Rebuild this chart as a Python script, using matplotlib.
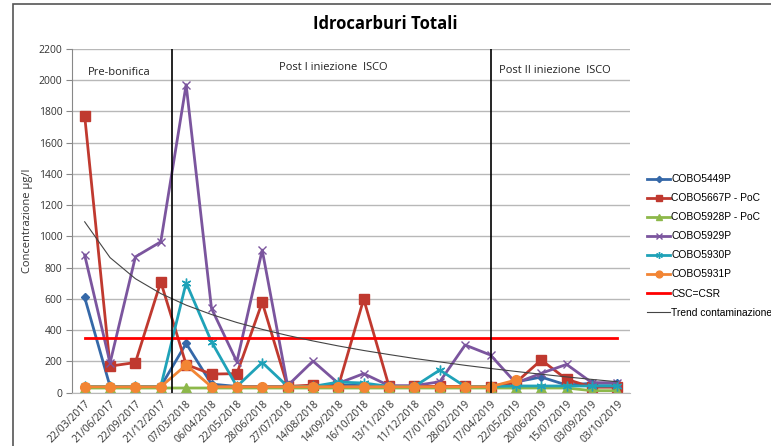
import numpy as np
import matplotlib
matplotlib.use("Agg")
import matplotlib.pyplot as plt
from matplotlib.patches import Rectangle

# dati
dates = ["22/03/2017", "21/06/2017", "22/09/2017", "21/12/2017", "07/03/2018",
         "06/04/2018", "22/05/2018", "28/06/2018", "27/07/2018", "14/08/2018",
         "14/09/2018", "16/10/2018", "13/11/2018", "11/12/2018", "17/01/2019",
         "28/02/2019", "17/04/2019", "22/05/2019", "20/06/2019", "15/07/2019",
         "03/09/2019", "03/10/2019"]

cobo5449 = [609, 40, 40, 40, 315, 55, 40, 40, 40, 40, 50, 45, 40, 40, 40, 40, 40, 69, 100, 49, 60, 60]
cobo5667 = [1770, 170, 193, 709, 180, 119, 122, 578, 40, 49, 40, 599, 40, 40, 40, 40, 38, 65, 209, 86, 35, 35]
cobo5928 = [30, 30, 30, 30, 30, 30, 30, 30, 30, 30, 30, 30, 30, 30, 30, 30, 30, 30, 30, 30, 13, 13]
cobo5929 = [880, 190, 869, 965, 1970, 539, 198, 912, 45, 202, 60, 122, 45, 45, 70, 305, 241, 62, 124, 181, 64, 64]
cobo5930 = [40, 40, 40, 40, 703, 326, 40, 193, 40, 40, 68, 62, 40, 40, 145, 40, 40, 43, 43, 43, 43, 43]
cobo5931 = [38, 38, 38, 38, 177, 38, 38, 38, 38, 38, 38, 38, 38, 38, 38, 38, 38, 81,
            np.nan, np.nan, np.nan, np.nan]
csc = 350
trend = [1093, 864, 729, 634, 560, 500, 449, 405, 366, 331, 299, 270, 244, 219,
         197, 175, 155, 136, 118, 101, 85, 70]

x = np.arange(len(dates))

fig = plt.figure(figsize=(7.71, 4.46), dpi=100)
ax = fig.add_axes([72 / 771, 1 - 392.7 / 446, 558 / 771, 344 / 446])

# cornice esterna
fig.patches.append(Rectangle((13 / 771, -0.1), 1.2, (446 - 4) / 446 + 0.1,
                             transform=fig.transFigure, fill=False,
                             edgecolor="#555555", linewidth=1.2))

lw = 2
ax.plot(x, cobo5449, color="#3568A8", marker="D", ms=4.5, lw=lw, label="COBO5449P")
ax.plot(x, cobo5667, color="#C0392F", marker="s", ms=6.5, lw=lw, label="COBO5667P - PoC")
ax.plot(x, cobo5928, color="#8DB84A", marker="^", ms=6.5, lw=lw, label="COBO5928P - PoC")
ax.plot(x, cobo5929, color="#7B559E", marker="x", ms=6, mew=1, lw=lw, label="COBO5929P")
ax.plot(x, cobo5930, color="#1FA2B8", marker=(6, 2, 0), ms=7, mew=1, lw=lw, label="COBO5930P")
ax.plot(x, cobo5931, color="#F28534", marker="o", ms=7, lw=lw, label="COBO5931P")
ax.plot(x, [csc] * len(x), color="#FF0000", lw=2, label="CSC=CSR")
ax.plot(x, trend, color="#444444", lw=0.8, label="Trend contaminazione")

# separatori fasi
ax.axvline(3.45, color="black", lw=1.2)
ax.axvline(16, color="black", lw=1.2)
ax.text(1.35, 2050, "Pre-bonifica", ha="center", va="center", fontsize=8,
        family="Open Sans", color="#222222")
ax.text(9.8, 2080, "Post I iniezione  ISCO", ha="center", va="center", fontsize=8,
        family="Open Sans", color="#222222")
ax.text(18.55, 2060, "Post II iniezione  ISCO", ha="center", va="center", fontsize=8,
        family="Open Sans", color="#222222")

ax.set_xlim(-0.5, len(x) - 0.5)
ax.set_ylim(0, 2200)
ax.set_yticks(range(0, 2201, 200))
ax.set_xticks(x)
ax.set_xticklabels(dates, rotation=45, ha="right", rotation_mode="anchor",
                   fontsize=7.5, family="Open Sans", color="#333333")
for t in ax.get_yticklabels():
    t.set_fontsize(7.5)
    t.set_family("Open Sans")
    t.set_color("#333333")
ax.tick_params(axis="x", length=0, pad=4)
ax.tick_params(axis="y", length=4, color="#888888", pad=3)
ax.grid(axis="y", color="#B8B8B8", lw=1)
ax.set_axisbelow(True)
for s in ["top", "right"]:
    ax.spines[s].set_visible(False)
ax.spines["left"].set_color("#888888")
ax.spines["bottom"].set_color("#B8B8B8")
ax.set_ylabel("Concentrazione µg/l", fontsize=8, family="Open Sans", color="#333333")

fig.text(0.5, 1 - 24 / 446, "Idrocarburi Totali", ha="center", va="center",
         fontsize=12, fontweight="bold", family="Open Sans")

fig.legend(loc="upper left", bbox_to_anchor=(638 / 771, 1 - 165 / 446),
           frameon=False, prop={"family": "Liberation Sans", "size": 7.4},
           handlelength=2.2, handletextpad=0.15, labelspacing=0.88,
           markerscale=0.7)

fig.savefig("out.png", dpi=100)
